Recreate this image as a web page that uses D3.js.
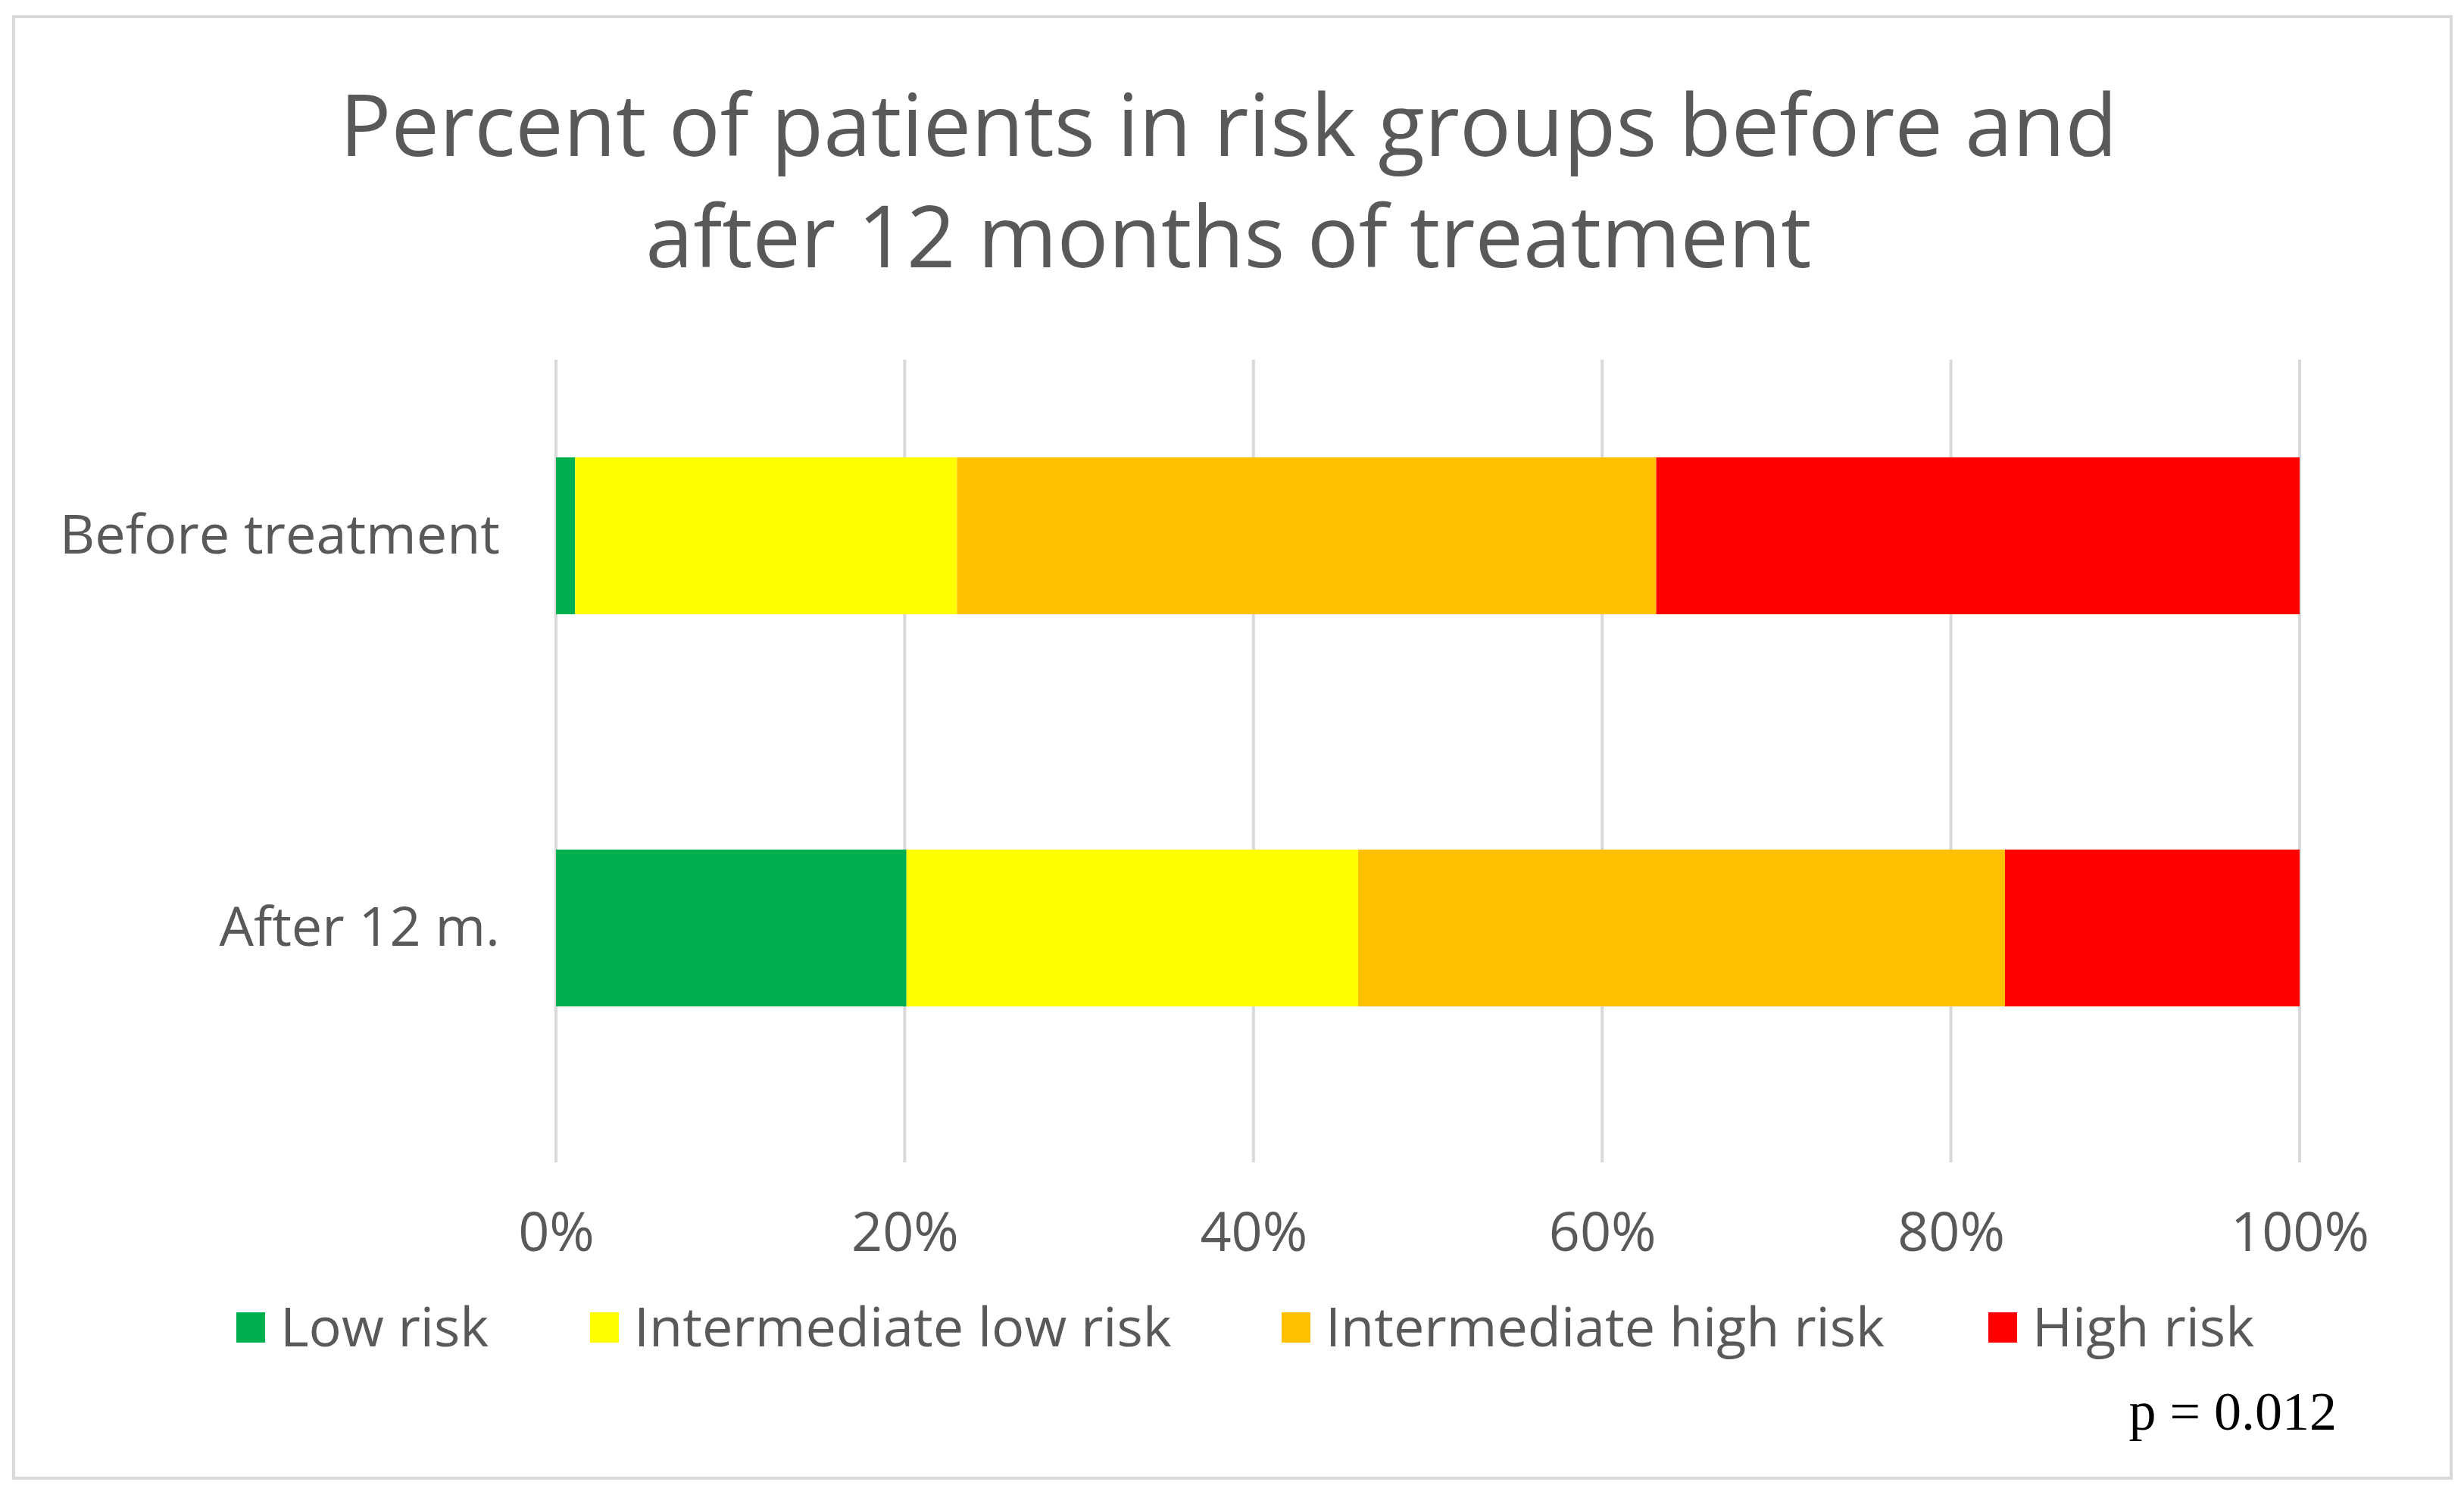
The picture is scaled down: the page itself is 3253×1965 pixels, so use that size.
<!DOCTYPE html>
<html>
<head>
<meta charset="utf-8">
<script src="https://cdn.jsdelivr.net/npm/d3@7"></script>
<style>
  body { margin: 0; background: #fff; }
  svg { display: block; }
  text { font-family: "Open Sans", sans-serif; fill: #595959; }
</style>
</head>
<body>
<div id="chart"></div>
<script>
// data (percent of patients)
const categories = ["Before treatment", "After 12 m."];
const groups = ["Low risk", "Intermediate low risk", "Intermediate high risk", "High risk"];
const lowRisk = [1.1, 20.1];
const intLowRisk = [21.9, 25.9];
const intHighRisk = [40.1, 37.1];
const highRisk = [36.9, 16.9];
const xTicks = [0, 20, 40, 60, 80, 100];
const colors = ["#00B050", "#FFFF00", "#FFC000", "#FF0000"];

const W = 3253, H = 1965;
const svg = d3.select("#chart").append("svg")
    .attr("width", W)
    .attr("height", H);

// outer frame
svg.append("rect")
    .attr("x", 18).attr("y", 22)
    .attr("width", 3218).attr("height", 1930)
    .attr("fill", "#fff")
    .attr("stroke", "#d9d9d9")
    .attr("stroke-width", 4);

// title
const title = svg.append("text")
    .attr("text-anchor", "middle")
    .attr("font-size", 113);
title.append("tspan").attr("x", 1622).attr("y", 206).text("Percent of patients in risk groups before and");
title.append("tspan").attr("x", 1622).attr("y", 353).text("after 12 months of treatment");

// scales
const x = d3.scaleLinear().domain([0, 100]).range([734, 3036]);
const y = d3.scaleBand().domain(categories).range([345, 1588])
    .paddingInner(0.6).paddingOuter(0.5);

// gridlines
svg.append("g").selectAll("line")
    .data(xTicks)
    .enter()
    .append("line")
    .attr("x1", d => x(d)).attr("x2", d => x(d))
    .attr("y1", 475).attr("y2", 1535)
    .attr("stroke", "#d9d9d9")
    .attr("stroke-width", 4);

// stack the series
const table = categories.map((c, i) => ({
    cat: c,
    "Low risk": lowRisk[i],
    "Intermediate low risk": intLowRisk[i],
    "Intermediate high risk": intHighRisk[i],
    "High risk": highRisk[i]
}));
const stacked = d3.stack().keys(groups)(table);

svg.append("g").selectAll("g")
    .data(stacked)
    .enter()
    .append("g")
    .attr("fill", (d, i) => colors[i])
    .selectAll("rect")
    .data(d => d)
    .enter()
    .append("rect")
    .attr("x", d => x(d[0]))
    .attr("y", d => y(d.data.cat))
    .attr("width", d => x(d[1]) - x(d[0]))
    .attr("height", y.bandwidth());

// x axis labels
const xAxis = svg.append("g")
    .attr("transform", "translate(0,1535)")
    .call(d3.axisBottom(x).tickValues(xTicks).tickFormat(d => d + "%").tickSize(0).tickPadding(66));
xAxis.select(".domain").remove();
xAxis.selectAll("text")
    .attr("font-size", 72)
    .attr("font-family", "Open Sans, sans-serif")
    .attr("fill", "#595959");

// y axis labels
const yAxis = svg.append("g")
    .attr("transform", "translate(660,0)")
    .call(d3.axisLeft(y).tickSize(0).tickPadding(0));
yAxis.select(".domain").remove();
yAxis.selectAll("text")
    .attr("font-size", 72)
    .attr("font-family", "Open Sans, sans-serif")
    .attr("fill", "#595959");

// legend
const legendX = [312, 779, 1692, 2625];
const legend = svg.append("g").selectAll("g")
    .data(groups)
    .enter()
    .append("g")
    .attr("transform", (d, i) => "translate(" + legendX[i] + ",1753)");
legend.append("rect")
    .attr("x", 0).attr("y", -20)
    .attr("width", 38).attr("height", 40)
    .attr("fill", (d, i) => colors[i]);
legend.append("text")
    .attr("x", 58)
    .attr("dy", "0.35em")
    .attr("font-size", 72)
    .text(d => d);

// p value
svg.append("text")
    .attr("x", 3085).attr("y", 1888)
    .attr("text-anchor", "end")
    .attr("font-size", 72)
    .style("font-family", "Liberation Serif, serif")
    .style("fill", "#000")
    .text("p = 0.012");
</script>
</body>
</html>
